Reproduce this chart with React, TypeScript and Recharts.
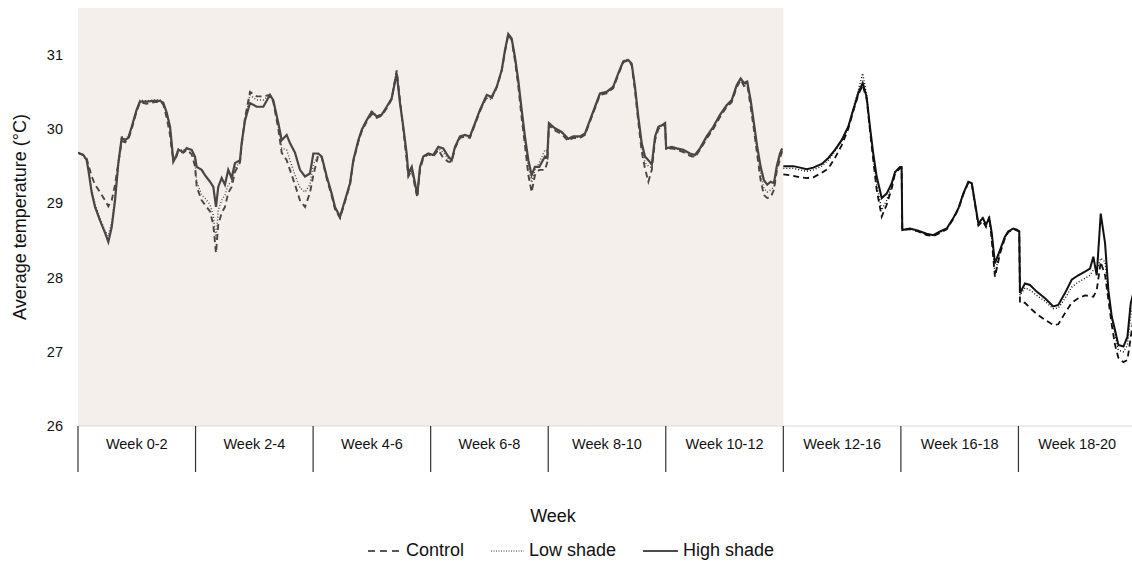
import React from "react"
import {
  LineChart,
  Line,
  XAxis,
  YAxis,
  ReferenceArea,
} from "recharts"

// position along the axis, in week-band units (0 = start of "Week 0-2")
const pos = [
  0.0, 0.045, 0.074, 0.088, 0.117, 0.145, 0.187, 0.23, 0.258, 0.287, 0.315, 0.343, 0.372, 0.4, 0.428, 0.457,
  0.499, 0.527, 0.584, 0.641, 0.698, 0.726, 0.755, 0.783, 0.797, 0.811, 0.834, 0.853, 0.896, 0.925, 0.967, 0.995,
  1.01, 1.052, 1.08, 1.123, 1.151, 1.174, 1.193, 1.222, 1.25, 1.278, 1.307, 1.335, 1.378, 1.392, 1.421, 1.463,
  1.52, 1.576, 1.633, 1.661, 1.704, 1.733, 1.775, 1.803, 1.846, 1.888, 1.931, 1.973,
  2.002, 2.044, 2.073, 2.116, 2.158, 2.186, 2.229, 2.271, 2.314, 2.342, 2.385, 2.414, 2.456, 2.498, 2.541, 2.583,
  2.626, 2.668, 2.711, 2.739, 2.767, 2.796, 2.81, 2.839, 2.867, 2.886, 2.909, 2.937, 2.98,
  3.022, 3.065, 3.107, 3.15, 3.179, 3.207, 3.249, 3.292, 3.334, 3.377, 3.42, 3.477, 3.519, 3.562, 3.604, 3.632,
  3.66, 3.689, 3.717, 3.745, 3.774, 3.802, 3.831, 3.859, 3.887, 3.924, 3.972, 3.992,
  4.006, 4.057, 4.114, 4.17, 4.213, 4.27, 4.313, 4.355, 4.398, 4.44, 4.497, 4.553, 4.596, 4.638, 4.681, 4.71,
  4.738, 4.766, 4.795, 4.823, 4.852, 4.881, 4.909, 4.937, 4.966, 4.994,
  5.003, 5.051, 5.093, 5.149, 5.206, 5.248, 5.291, 5.348, 5.404, 5.461, 5.518, 5.561, 5.603, 5.637, 5.665, 5.693,
  5.722, 5.75, 5.778, 5.807, 5.835, 5.863, 5.892, 5.92, 5.943, 5.971, 5.99,
  6.0, 6.085, 6.142, 6.199, 6.255, 6.327, 6.383, 6.439, 6.496, 6.552, 6.595, 6.637, 6.675, 6.709, 6.737, 6.765,
  6.794, 6.837, 6.879, 6.922, 6.95, 6.992,
  7.006, 7.012, 7.077, 7.148, 7.219, 7.276, 7.333, 7.39, 7.446, 7.489, 7.531, 7.574, 7.603, 7.631, 7.659, 7.697,
  7.724, 7.752, 7.773, 7.8, 7.843, 7.885, 7.913, 7.956, 7.99,
  8.007, 8.013, 8.055, 8.098, 8.155, 8.226, 8.296, 8.339, 8.396, 8.453, 8.509, 8.566, 8.609, 8.637, 8.666, 8.7,
  8.737, 8.765, 8.794, 8.822, 8.85, 8.893, 8.927, 8.955, 8.983,
]

const highShade = [
  29.68, 29.65, 29.58, 29.45, 29.14, 28.95, 28.77, 28.6, 28.48, 28.68, 29.04, 29.54, 29.88, 29.85, 29.88, 30.03,
  30.26, 30.37, 30.37, 30.38, 30.38, 30.35, 30.22, 30.03, 29.81, 29.56, 29.63, 29.72, 29.69, 29.74, 29.72, 29.63,
  29.49, 29.45, 29.38, 29.29, 29.22, 28.95, 29.22, 29.34, 29.25, 29.45, 29.34, 29.54, 29.58, 29.81, 30.12, 30.35,
  30.3, 30.3, 30.46, 30.39, 30.08, 29.85, 29.92, 29.81, 29.68, 29.45, 29.36, 29.4,
  29.67, 29.67, 29.63, 29.36, 29.13, 28.95, 28.82, 29.04, 29.27, 29.58, 29.85, 29.99, 30.12, 30.23, 30.17, 30.19,
  30.3, 30.41, 30.75, 30.35, 30.03, 29.67, 29.4, 29.49, 29.27, 29.11, 29.49, 29.63, 29.67,
  29.65, 29.76, 29.74, 29.63, 29.58, 29.76, 29.9, 29.92, 29.9, 30.08, 30.26, 30.46, 30.43, 30.57, 30.79, 31.06,
  31.28, 31.22, 30.97, 30.66, 30.26, 29.9, 29.58, 29.38, 29.49, 29.49, 29.63, 29.61,
  30.08, 30.01, 29.96, 29.87, 29.9, 29.9, 29.94, 30.12, 30.3, 30.48, 30.5, 30.57, 30.75, 30.91, 30.93, 30.88,
  30.57, 30.17, 29.81, 29.63, 29.58, 29.52, 29.9, 30.03, 30.05, 30.08,
  29.74, 29.76, 29.74, 29.72, 29.67, 29.65, 29.74, 29.9, 30.03, 30.19, 30.32, 30.39, 30.59, 30.68, 30.62, 30.64,
  30.39, 30.08, 29.76, 29.49, 29.31, 29.25, 29.29, 29.27, 29.49, 29.67, 29.74,
  29.5, 29.5, 29.48, 29.46, 29.48, 29.53, 29.61, 29.72, 29.85, 30.03, 30.26, 30.48, 30.62, 30.43, 30.03, 29.67,
  29.36, 29.07, 29.13, 29.27, 29.42, 29.49,
  29.49, 28.64, 28.66, 28.63, 28.59, 28.57, 28.62, 28.66, 28.8, 28.93, 29.13, 29.29, 29.27, 29.0, 28.73, 28.8,
  28.71, 28.8, 28.6, 28.19, 28.37, 28.55, 28.62, 28.66, 28.64,
  28.62, 27.79, 27.92, 27.9, 27.81, 27.72, 27.61, 27.63, 27.79, 27.97, 28.03, 28.08, 28.12, 28.28, 28.03, 28.86,
  28.46, 27.83, 27.47, 27.29, 27.09, 27.07, 27.2, 27.65, 27.83,
]

const control = [
  29.68, 29.65, 29.6, 29.52, 29.36, 29.25, 29.15, 29.04, 28.96, 29.04, 29.25, 29.54, 29.84, 29.82, 29.86, 30.0,
  30.24, 30.36, 30.34, 30.36, 30.37, 30.33, 30.15, 29.92, 29.72, 29.6, 29.62, 29.7, 29.68, 29.72, 29.66, 29.5,
  29.22, 29.04, 28.98, 28.89, 28.71, 28.33, 28.71, 28.87, 28.95, 29.14, 29.22, 29.42, 29.55, 29.78, 30.15, 30.5,
  30.44, 30.44, 30.46, 30.37, 30.0, 29.68, 29.58, 29.45, 29.25, 29.04, 28.95, 29.14,
  29.38, 29.65, 29.62, 29.33, 29.1, 28.92, 28.8, 29.02, 29.25, 29.56, 29.83, 29.97, 30.1, 30.2, 30.15, 30.18,
  30.28, 30.4, 30.79, 30.39, 30.0, 29.58, 29.36, 29.45, 29.22, 29.08, 29.45, 29.61, 29.66,
  29.63, 29.72, 29.61, 29.56, 29.56, 29.74, 29.88, 29.9, 29.88, 30.06, 30.24, 30.44, 30.42, 30.56, 30.78, 31.04,
  31.27, 31.2, 30.92, 30.58, 30.15, 29.78, 29.38, 29.15, 29.38, 29.45, 29.45, 29.55,
  30.05, 29.98, 29.93, 29.84, 29.88, 29.88, 29.92, 30.1, 30.28, 30.46, 30.48, 30.55, 30.73, 30.9, 30.92, 30.86,
  30.52, 30.1, 29.7, 29.47, 29.29, 29.45, 29.85, 30.0, 30.03, 30.05,
  29.72, 29.74, 29.72, 29.69, 29.64, 29.62, 29.72, 29.87, 30.0, 30.16, 30.3, 30.36, 30.56, 30.66, 30.58, 30.6,
  30.3, 29.99, 29.65, 29.31, 29.11, 29.07, 29.08, 29.18, 29.42, 29.6, 29.7,
  29.39, 29.37, 29.35, 29.34, 29.35, 29.41, 29.47, 29.61, 29.78, 30.0, 30.24, 30.46, 30.59, 30.4, 29.98, 29.58,
  29.18, 28.82, 28.98, 29.2, 29.4, 29.47,
  29.47, 28.64, 28.65, 28.62, 28.57, 28.56, 28.6, 28.65, 28.79, 28.92, 29.12, 29.28, 29.26, 28.98, 28.7, 28.76,
  28.68, 28.82, 28.5, 28.01, 28.32, 28.53, 28.61, 28.65, 28.63,
  28.62, 27.66, 27.66, 27.59, 27.51, 27.43, 27.36, 27.37, 27.52, 27.66, 27.72, 27.76, 27.75, 27.74, 27.83, 28.21,
  28.03, 27.7, 27.36, 27.09, 26.92, 26.86, 26.89, 27.19, 27.5,
]

const lowShade = [
  29.68, 29.65, 29.58, 29.47, 29.18, 28.99, 28.8, 28.63, 28.56, 28.75, 29.08, 29.5, 29.9, 29.87, 29.9, 30.03,
  30.27, 30.39, 30.38, 30.39, 30.39, 30.36, 30.2, 30.0, 29.78, 29.58, 29.65, 29.73, 29.71, 29.75, 29.7, 29.58,
  29.29, 29.11, 29.07, 28.98, 28.84, 28.51, 28.91, 29.04, 29.11, 29.25, 29.29, 29.47, 29.56, 29.8, 30.14, 30.46,
  30.39, 30.39, 30.46, 30.39, 30.04, 29.74, 29.72, 29.58, 29.38, 29.21, 29.15, 29.25,
  29.52, 29.66, 29.63, 29.35, 29.12, 28.93, 28.8, 29.03, 29.26, 29.57, 29.84, 29.98, 30.12, 30.25, 30.18, 30.2,
  30.3, 30.42, 30.79, 30.38, 30.02, 29.62, 29.38, 29.47, 29.25, 29.1, 29.47, 29.62, 29.67,
  29.64, 29.74, 29.68, 29.6, 29.57, 29.75, 29.89, 29.91, 29.89, 30.07, 30.25, 30.42, 30.39, 30.56, 30.79, 31.05,
  31.28, 31.21, 30.95, 30.62, 30.22, 29.85, 29.5, 29.28, 29.45, 29.55, 29.72, 29.7,
  30.07, 30.0, 29.95, 29.86, 29.89, 29.89, 29.93, 30.11, 30.29, 30.47, 30.49, 30.56, 30.74, 30.92, 30.94, 30.87,
  30.55, 30.14, 29.76, 29.55, 29.5, 29.48, 29.88, 30.02, 30.04, 30.07,
  29.73, 29.75, 29.73, 29.7, 29.65, 29.63, 29.73, 29.88, 30.02, 30.18, 30.31, 30.38, 30.58, 30.67, 30.6, 30.62,
  30.35, 30.04, 29.7, 29.4, 29.2, 29.15, 29.18, 29.22, 29.45, 29.64, 29.72,
  29.47, 29.47, 29.45, 29.43, 29.45, 29.5, 29.58, 29.7, 29.84, 30.03, 30.28, 30.52, 30.75, 30.45, 30.0, 29.62,
  29.25, 28.91, 29.04, 29.24, 29.41, 29.48,
  29.48, 28.64, 28.66, 28.62, 28.58, 28.57, 28.61, 28.66, 28.8, 28.93, 29.13, 29.29, 29.27, 28.99, 28.72, 28.82,
  28.7, 28.8, 28.55, 28.05, 28.35, 28.54, 28.62, 28.66, 28.64,
  28.62, 27.76, 27.86, 27.83, 27.76, 27.68, 27.58, 27.59, 27.72, 27.87, 27.94, 27.99, 28.03, 28.1, 28.1, 28.26,
  28.21, 27.8, 27.45, 27.23, 27.02, 27.0, 27.09, 27.49, 27.7,
]

const weekLabels = [
  "Week 0-2",
  "Week 2-4",
  "Week 4-6",
  "Week 6-8",
  "Week 8-10",
  "Week 10-12",
  "Week 12-16",
  "Week 16-18",
  "Week 18-20",
]
const yTicks = [26, 27, 28, 29, 30, 31]
const bandTicks = [0, 1, 2, 3, 4, 5, 6, 7, 8]
const shadedEnd = 6 // weeks 0-12 sit on the shaded panel

const rows = pos.map((p, i) => {
  const early = p < shadedEnd
  return {
    pos: p,
    controlA: early ? control[i] : null,
    lowA: early ? lowShade[i] : null,
    highA: early ? highShade[i] : null,
    controlB: early ? null : control[i],
    lowB: early ? null : lowShade[i],
    highB: early ? null : highShade[i],
  }
})

const FONT = "'Liberation Sans', Arial, Helvetica, sans-serif"
const GREY = "#4b4646"
const BLACK = "#111"
const BAND = 1058 / 9

type TickProps = {
  x?: number
  y?: number
  payload?: { value: number }
}

const WeekTick: React.FC<TickProps> = ({ x = 0, y = 0, payload }) => (
  <g>
    <line x1={x} x2={x} y1={y} y2={y + 46} stroke="#333" strokeWidth={1.2} />
    <text x={x + BAND / 2} y={y + 23} textAnchor="middle" fontSize={14.5} fill="#111">
      {weekLabels[payload?.value ?? 0]}
    </text>
  </g>
)

export default function App() {
  return (
    <div
      style={{
        position: "absolute",
        left: 0,
        top: 0,
        width: 1132,
        height: 562,
        overflow: "hidden",
        background: "#fff",
        fontFamily: FONT,
      }}
    >
      <LineChart
        width={1140}
        height={562}
        data={rows}
        margin={{ top: 8, right: 4, left: 0, bottom: 0 }}
      >
        <ReferenceArea x1={0} x2={shadedEnd} fill="#f4efeb" fillOpacity={1} stroke="none" />
        <XAxis
          dataKey="pos"
          type="number"
          domain={[0, 9]}
          ticks={bandTicks}
          interval={0}
          height={136}
          axisLine={{ stroke: "#dcd8d4" }}
          tickLine={false}
          tickSize={0}
          tickMargin={0}
          tick={<WeekTick />}
          allowDataOverflow
        />
        <YAxis
          type="number"
          domain={[26, 31.63]}
          ticks={yTicks}
          width={78}
          axisLine={false}
          tickLine={false}
          tickSize={0}
          tickMargin={15}
          tick={{ fontSize: 14.5, fill: "#111" }}
          allowDataOverflow
          label={{
            value: "Average temperature (°C)",
            angle: -90,
            position: "insideLeft",
            offset: 20,
            textAnchor: "middle",
            style: { fontSize: 18, fill: "#111" },
          }}
        />
        <Line dataKey="controlA" stroke={GREY} strokeWidth={1.9} strokeDasharray="6 4" dot={false} isAnimationActive={false} />
        <Line dataKey="lowA" stroke={GREY} strokeWidth={1.4} strokeDasharray="1 2" dot={false} isAnimationActive={false} />
        <Line dataKey="highA" stroke={GREY} strokeWidth={2.2} dot={false} isAnimationActive={false} />
        <Line dataKey="controlB" stroke={BLACK} strokeWidth={1.8} strokeDasharray="6 4" dot={false} isAnimationActive={false} />
        <Line dataKey="lowB" stroke={BLACK} strokeWidth={1.4} strokeDasharray="1 2" dot={false} isAnimationActive={false} />
        <Line dataKey="highB" stroke={BLACK} strokeWidth={2} dot={false} isAnimationActive={false} />
      </LineChart>

      {/* axis title and legend */}
      <svg
        width={1132}
        height={562}
        style={{ position: "absolute", left: 0, top: 0, pointerEvents: "none" }}
      >
        <text x={553} y={522} textAnchor="middle" fontSize={18} fill="#111">
          Week
        </text>
        <line x1={368} x2={404} y1={551} y2={551} stroke="#222" strokeWidth={1.5} strokeDasharray="7 5" />
        <text x={406} y={556} fontSize={18} fill="#111">Control</text>
        <line x1={491} x2={524} y1={551} y2={551} stroke="#777" strokeWidth={1.3} strokeDasharray="1 1.5" />
        <text x={529} y={556} fontSize={18} fill="#111">Low shade</text>
        <line x1={643} x2={678} y1={551} y2={551} stroke="#111" strokeWidth={1.5} />
        <text x={683} y={556} fontSize={18} fill="#111">High shade</text>
      </svg>
    </div>
  )
}
